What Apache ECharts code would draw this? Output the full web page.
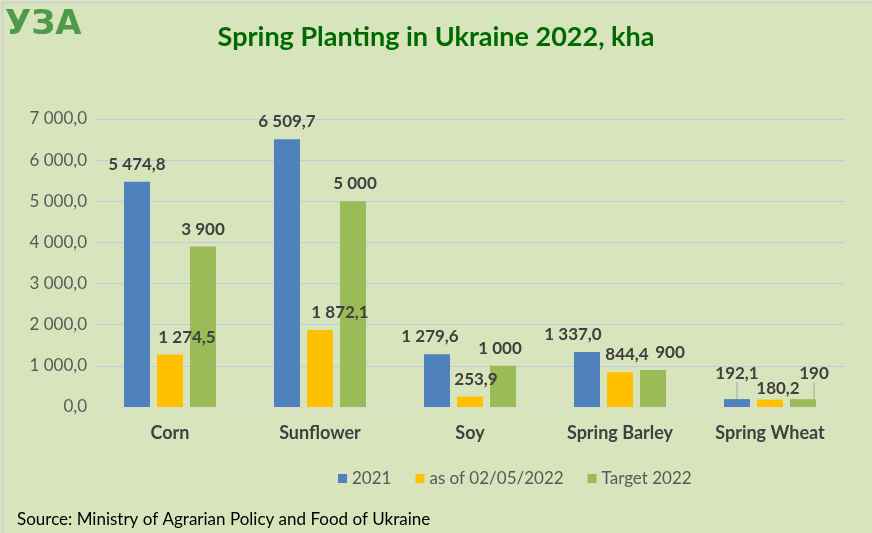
<!DOCTYPE html>
<html>
<head>
	<meta charset="UTF-8">
	<title>Spring Planting in Ukraine 2022</title>
	<style>
		html, body { margin: 0; padding: 0; background: #fff; }
		#chart { width: 872px; height: 533px; }
	</style>
</head>
<body>
	<div id="chart"></div>
	<script src="https://cdn.jsdelivr.net/npm/echarts@6/dist/echarts.min.js"></script>
	<script type="text/javascript">
		// data
		var categories = ["Corn", "Sunflower", "Soy", "Spring Barley", "Spring Wheat"];
		var seriesNames = ["2021", "as of 02/05/2022", "Target 2022"];
		var values2021 = [5474.8, 6509.7, 1279.6, 1337.0, 192.1];
		var valuesNow = [1274.5, 1872.1, 253.9, 844.4, 180.2];
		var valuesTarget = [3900, 5000, 1000, 900, 190];
		var yTicks = [0, 1000, 2000, 3000, 4000, 5000, 6000, 7000];

		// label nudges, like the hand-moved labels in the original
		var labelShift = [
			[[0, 0], [0, 0], [-7, 0], [-14, 0], [0, -8]],
			[[17, 0], [20, 0], [6, 0], [7, 0], [8, 6]],
			[[0, 0], [2, 0], [-3, 0], [17, 0], [11, -8]]
		];
		var leaderOn = [false, false, false, false, true];

		function fmt(v, dec) {
			var s = v.toFixed(dec).split(".");
			var ip = s[0].replace(/\B(?=(\d{3})+(?!\d))/g, " ");
			return s.length > 1 ? ip + "," + s[1] : ip;
		}

		var colors = ["#4F81BD", "#FFC000", "#9BBB59"];
		var fontFam = "Lato, 'Open Sans', sans-serif";
		var my_echarts = echarts.init(document.getElementById("chart"));

		function makeSeries(idx, data, dec) {
			return {
				name: seriesNames[idx],
				type: "bar",
				data: data.map(function(v, i) {
					return {
						value: v,
						labelLine: { show: leaderOn[i] && idx !== 1 }
					};
				}),
				barWidth: 26,
				barGap: "27%",
				itemStyle: { color: colors[idx] },
				label: {
					show: true,
					position: "top",
					distance: 9,
					color: "#404040",
					fontWeight: "bold",
					fontSize: 17,
					fontFamily: fontFam,
					formatter: function(p) { return fmt(p.value, dec); }
				},
				labelLine: {
					lineStyle: { color: "#a6a6a6", width: 1 }
				},
				labelLayout: function(p) {
					var sh = labelShift[idx][p.dataIndex];
					return { dx: sh[0], dy: sh[1] };
				}
			};
		}

		var option = {
			backgroundColor: "#D8E4BC",
			animation: false,
			color: colors,
			title: {
				text: "Spring Planting in Ukraine 2022, kha",
				left: "center",
				top: 19,
				textStyle: {
					color: "#006A00",
					fontSize: 27,
					fontWeight: "bold",
					fontFamily: fontFam
				}
			},
			graphic: [{
				type: "text",
				left: 5,
				top: 8,
				style: {
					text: "УЗА",
					fill: "#4E9A4A",
					font: "bold 34px 'DejaVu Sans', sans-serif"
				}
			}, {
				type: "text",
				left: 17,
				top: 511,
				style: {
					text: "Source: Ministry of Agrarian Policy and Food of Ukraine",
					fill: "#000",
					font: "17px " + fontFam
				}
			}, {
				type: "rect",
				left: 0,
				top: 0,
				shape: { width: 871, height: 532 },
				style: { fill: "none", stroke: "#d0d0d0", lineWidth: 2 }
			}],
			legend: {
				data: seriesNames,
				bottom: 41,
				left: 333,
				itemWidth: 9,
				itemHeight: 9,
				itemGap: 24,
				icon: "rect",
				textStyle: { color: "#595959", fontSize: 17, fontFamily: fontFam }
			},
			grid: {
				left: 95,
				right: 27,
				top: 119,
				bottom: 126
			},
			xAxis: {
				type: "category",
				data: categories,
				axisTick: { show: false },
				axisLine: { lineStyle: { color: "#d9d9d9" } },
				axisLabel: {
					color: "#404040",
					fontWeight: "bold",
					fontSize: 18,
					fontFamily: fontFam,
					margin: 17
				}
			},
			yAxis: {
				type: "value",
				min: yTicks[0],
				max: yTicks[yTicks.length - 1],
				interval: yTicks[1] - yTicks[0],
				axisLine: { show: false },
				axisTick: { show: false },
				axisLabel: {
					color: "#595959",
					fontSize: 17,
					fontFamily: fontFam,
					margin: 8,
					formatter: function(v) { return fmt(v, 1); }
				},
				splitLine: { lineStyle: { color: "#B9CDE5" } }
			},
			series: [
				makeSeries(0, values2021, 1),
				makeSeries(1, valuesNow, 1),
				makeSeries(2, valuesTarget, 0)
			]
		};
		my_echarts.setOption(option);
	</script>
</body>
</html>
